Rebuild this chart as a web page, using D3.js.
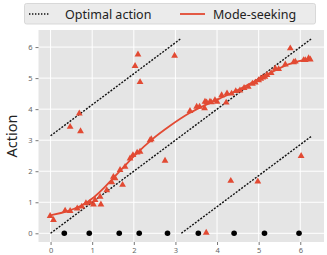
<!DOCTYPE html>
<html>
<head>
<meta charset="utf-8">
<script src="https://cdn.jsdelivr.net/npm/d3@7"></script>
<style>
body{margin:0;background:#fff;}
text{font-family:"Noto Sans","DejaVu Sans",sans-serif;}
</style>
</head>
<body>
<div id="canvas"></div>
<script>
var width = 327;
var height = 255;

// tick values
var xTicks = [0,1,2,3,4,5,6];
var yTicks = [0,1,2,3,4,5,6];

// optimal action lines (segments in data units)
var optimalLines = [
	[[0,Math.PI],[Math.PI,2*Math.PI]],
	[[0,0],[2*Math.PI,2*Math.PI]],
	[[Math.PI,0],[2*Math.PI,Math.PI]]
];

// black dots at y=0
var dotX = [0.33,0.93,1.65,2.13,2.81,3.55,4.41,5.14,5.97];

// mode-seeking curve
var curvePts = [[0,0.58],[0.4,0.7],[0.75,0.88],[1.05,1.15],[1.3,1.48],[1.55,1.84],[1.8,2.2],[2.05,2.55],[2.4,3.0],[2.87,3.47],[3.35,3.9],[3.7,4.12],[4.07,4.35],[4.45,4.57],[4.9,4.9],[5.4,5.26],[5.8,5.5],[6.24,5.62]];

// sample triangles
var triX = [0.47,0.69,0.72,2.10,2.03,2.15,2.98,2.42,3.35,3.58,3.71,3.70,3.83,3.95,2.75,1.73,3.74,4.33,4.98,6.02,5.76,
	0.07,-0.01,1.03,1.21,0.35,0.47,0.64,0.75,0.85,0.95,1.07,1.19,1.35,1.47,1.55,
	1.51,1.67,1.79,1.91,1.98,2.08,2.15,2.39,3.51,3.75,3.86,4.0,
	4.11,4.24,4.22,4.35,4.45,4.55,4.65,4.75,4.85,4.92,5.0,5.05,5.1,5.15,5.2,5.3,
	5.4,5.48,5.64,5.84,5.88,6.08,6.12,6.20,6.24];
var triY = [3.43,3.86,3.29,5.76,5.39,4.87,5.72,3.03,3.94,4.08,4.24,4.03,4.24,4.29,2.34,1.56,0.02,1.69,1.67,2.49,5.96,
	0.43,0.56,0.93,0.93,0.73,0.72,0.80,0.86,0.97,0.99,1.07,1.18,1.39,1.64,1.77,
	1.82,2.04,2.14,2.41,2.52,2.60,2.63,3.0,4.08,4.22,4.22,4.24,
	4.45,4.51,4.21,4.50,4.58,4.60,4.68,4.72,4.82,4.86,4.93,4.98,5.02,5.04,5.1,5.16,
	5.31,5.29,5.44,5.51,5.53,5.58,5.58,5.64,5.6];

var red = "#E24A33";
var panel = {left:38.5, right:324, top:30, bottom:242};

var x = d3.scaleLinear().domain([-0.29,6.57]).range([panel.left,panel.right]);
var y = d3.scaleLinear().domain([-0.28,6.55]).range([panel.bottom,panel.top]);

var svg = d3.select("#canvas").append("svg")
	.attr("width",width).attr("height",height);

svg.append("rect")
	.attr("x",panel.left).attr("y",panel.top)
	.attr("width",panel.right-panel.left).attr("height",panel.bottom-panel.top)
	.attr("fill","#E5E5E5");

// grid
var grid = svg.append("g");
grid.selectAll("line.gx").data(xTicks).enter().append("line")
	.attr("x1",function(d){return x(d);}).attr("x2",function(d){return x(d);})
	.attr("y1",panel.top).attr("y2",panel.bottom)
	.attr("stroke","#fff").attr("stroke-width",1);
grid.selectAll("line.gy").data(yTicks).enter().append("line")
	.attr("y1",function(d){return y(d);}).attr("y2",function(d){return y(d);})
	.attr("x1",panel.left).attr("x2",panel.right)
	.attr("stroke","#fff").attr("stroke-width",1);

// axes
var xAxis = svg.append("g")
	.attr("transform","translate(0,"+panel.bottom+")")
	.call(d3.axisBottom(x).tickValues(xTicks).tickFormat(d3.format("d")).tickSize(3).tickPadding(3));
var yAxis = svg.append("g")
	.attr("transform","translate("+panel.left+",0)")
	.call(d3.axisLeft(y).tickValues(yTicks).tickFormat(d3.format("d")).tickSize(3).tickPadding(3));
[xAxis,yAxis].forEach(function(a){
	a.select(".domain").remove();
	a.selectAll(".tick line").attr("stroke","#777");
	a.selectAll(".tick text").attr("fill","#666").style("font-size","7.5px");
});

svg.append("text")
	.attr("transform","translate(17,"+((panel.top+panel.bottom)/2)+") rotate(-90)")
	.attr("text-anchor","middle")
	.style("font-size","14.5px")
	.attr("fill","#222")
	.text("Action");

// optimal lines
var line = d3.line().x(function(d){return x(d[0]);}).y(function(d){return y(d[1]);});
svg.selectAll("path.opt").data(optimalLines).enter().append("path")
	.attr("d",line)
	.attr("fill","none")
	.attr("stroke","#111")
	.attr("stroke-width",1.4)
	.attr("stroke-dasharray","2,1.4");

// mode-seeking curve
svg.append("path")
	.datum(curvePts)
	.attr("d",line.curve(d3.curveBasis))
	.attr("fill","none")
	.attr("stroke",red)
	.attr("stroke-width",1.8);

// triangles
var tri = d3.symbol().type(d3.symbolTriangle).size(20);
svg.selectAll("path.tri").data(triX).enter().append("path")
	.attr("d",tri)
	.attr("transform",function(d,i){return "translate("+x(d)+","+y(triY[i])+")";})
	.attr("fill",red);

// dots
svg.selectAll("circle.dot").data(dotX).enter().append("circle")
	.attr("cx",function(d){return x(d);})
	.attr("cy",y(0))
	.attr("r",2.8)
	.attr("fill","#000");

// legend
var lg = svg.append("g");
lg.append("rect")
	.attr("x",24.5).attr("y",3.5).attr("width",291).attr("height",20.5)
	.attr("rx",2)
	.attr("fill","#EBEBEB").attr("stroke","#D0D0D0").attr("stroke-width",0.8);
lg.append("line")
	.attr("x1",29).attr("x2",49).attr("y1",14).attr("y2",14)
	.attr("stroke","#111").attr("stroke-width",1.4).attr("stroke-dasharray","1.4,1.6");
lg.append("text").attr("x",65).attr("y",18.5).style("font-size","12.5px").attr("fill","#222").text("Optimal action");
lg.append("line")
	.attr("x1",180).attr("x2",205).attr("y1",14).attr("y2",14)
	.attr("stroke",red).attr("stroke-width",1.8);
lg.append("text").attr("x",213).attr("y",18.5).style("font-size","12.5px").attr("fill","#222").text("Mode-seeking");
</script>
</body>
</html>
